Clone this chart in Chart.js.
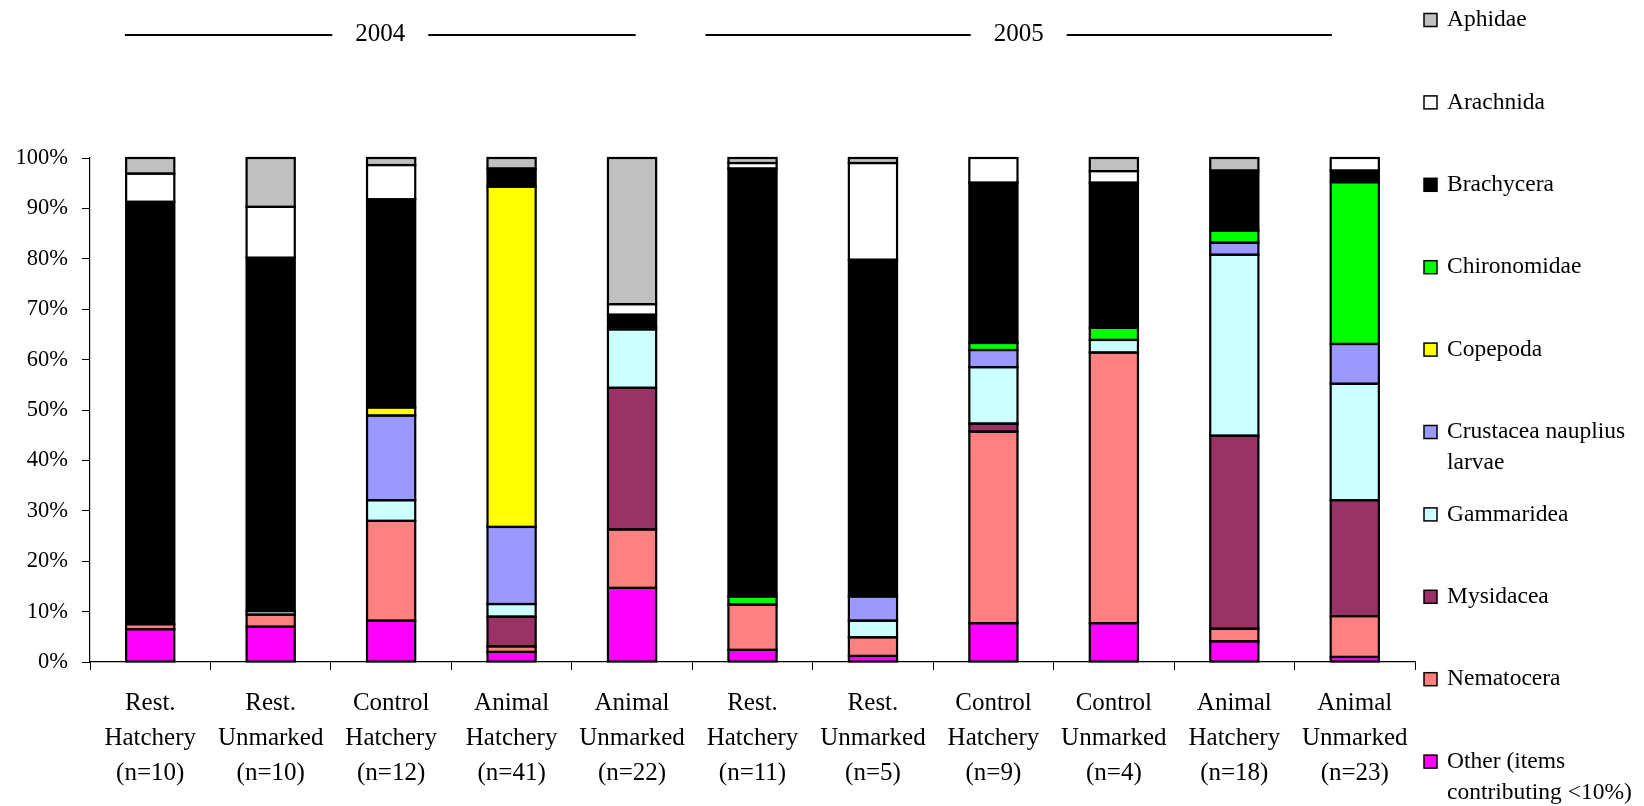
<!DOCTYPE html>
<html>
<head>
<meta charset="utf-8">
<style>
  html, body { margin: 0; padding: 0; background: #fff; }
  #wrap { width: 1644px; height: 806px; }
</style>
<script src="https://cdn.jsdelivr.net/npm/chart.js@4.4.1/dist/chart.umd.min.js"></script>
</head>
<body>
<div id="wrap"><canvas id="dietChart" width="1644" height="806"></canvas></div>
<script>
// categories (2004: first five, 2005: last six)
const groups = [
  ['Rest.', 'Hatchery', '(n=10)'],
  ['Rest.', 'Unmarked', '(n=10)'],
  ['Control', 'Hatchery', '(n=12)'],
  ['Animal', 'Hatchery', '(n=41)'],
  ['Animal', 'Unmarked', '(n=22)'],
  ['Rest.', 'Hatchery', '(n=11)'],
  ['Rest.', 'Unmarked', '(n=5)'],
  ['Control', 'Hatchery', '(n=9)'],
  ['Control', 'Unmarked', '(n=4)'],
  ['Animal', 'Hatchery', '(n=18)'],
  ['Animal', 'Unmarked', '(n=23)']
];
const years = ['2004', '2005'];
const yTicks = [0, 10, 20, 30, 40, 50, 60, 70, 80, 90, 100];

// percent of diet, bottom of the stack first
const other       = [6.5, 7.0, 8.2, 2.0, 14.7, 2.4, 1.2, 7.7, 7.7, 4.1, 1.0];
const nematocera  = [1.0, 2.4, 19.8, 1.1, 11.6, 9.0, 3.7, 38.0, 53.7, 2.5, 8.1];
const mysidacea   = [null, null, null, 5.9, 28.1, null, null, 1.6, null, 38.3, 23.0];
const gammaridea  = [null, 0.7, 4.1, 2.5, 11.6, null, 3.3, 11.2, 2.5, 35.9, 23.1];
const crustacea   = [null, null, 16.8, 15.3, null, null, 4.8, 3.4, null, 2.4, 7.9];
const copepoda    = [null, null, 1.6, 67.5, 0.5, null, null, null, null, null, null];
const chironomidae= [null, null, null, null, null, 1.6, null, 1.4, 2.4, 2.4, 32.1];
const brachycera  = [83.8, 70.1, 41.3, 3.6, 2.4, 84.9, 66.8, 31.8, 28.8, 11.9, 2.3];
const arachnida   = [5.6, 10.1, 6.8, null, 2.1, 1.1, 19.2, 4.9, 2.3, null, 2.5];
const aphidae     = [3.1, 9.7, 1.4, 2.1, 29.0, 1.0, 1.0, null, 2.6, 2.5, null];

const FONT = '"Liberation Serif", "Times New Roman", serif';

function ds(label, data, color) {
  return {
    label: label,
    data: data,
    backgroundColor: color,
    borderWidth: 0,
    inflateAmount: 0,
    barPercentage: 0.4,
    categoryPercentage: 1.0
  };
}

const datasets = [
  ds(['Other (items', 'contributing <10%)'], other, '#FF00FF'),
  ds('Nematocera', nematocera, '#FF8080'),
  ds('Mysidacea', mysidacea, '#993366'),
  ds('Gammaridea', gammaridea, '#CCFFFF'),
  ds(['Crustacea nauplius', 'larvae'], crustacea, '#9999FF'),
  ds('Copepoda', copepoda, '#FFFF00'),
  ds('Chironomidae', chironomidae, '#00FF00'),
  ds('Brachycera', brachycera, '#000000'),
  ds('Arachnida', arachnida, '#FFFFFF'),
  ds('Aphidae', aphidae, '#C0C0C0')
];

// black outline round every segment, centred on its edge like the excel original
const segmentOutline = {
  id: 'segmentOutline',
  afterDatasetsDraw(chart) {
    const ctx = chart.ctx;
    ctx.save();
    ctx.strokeStyle = '#000';
    ctx.lineWidth = 2.2;
    chart.data.datasets.forEach((d, i) => {
      chart.getDatasetMeta(i).data.forEach((bar, j) => {
        if (d.data[j] == null) return;
        const p = bar.getProps(['x', 'y', 'base', 'width'], true);
        const top = Math.min(p.y, p.base);
        ctx.strokeRect(p.x - p.width / 2, top, p.width, Math.abs(p.base - p.y));
      });
    });
    ctx.restore();
  }
};

// year headings with lines on both sides
const yearHeader = {
  id: 'yearHeader',
  afterDraw(chart) {
    const ctx = chart.ctx;
    const x = chart.scales.x;
    const cw = x.getPixelForValue(1) - x.getPixelForValue(0);
    const spans = [
      [x.getPixelForValue(0) - 0.21 * cw, x.getPixelForValue(4) + 0.03 * cw],
      [x.getPixelForValue(5) - 0.39 * cw, x.getPixelForValue(10) - 0.19 * cw]
    ];
    ctx.save();
    ctx.font = '25px ' + FONT;
    ctx.fillStyle = '#000';
    ctx.strokeStyle = '#000';
    ctx.lineWidth = 2;
    ctx.textAlign = 'center';
    ctx.textBaseline = 'middle';
    years.forEach((yr, i) => {
      const [a, b] = spans[i];
      const mid = (a + b) / 2;
      ctx.beginPath();
      ctx.moveTo(a, 35); ctx.lineTo(mid - 48, 35);
      ctx.moveTo(mid + 48, 35); ctx.lineTo(b, 35);
      ctx.stroke();
      ctx.fillText(yr, mid, 34);
    });
    ctx.restore();
  }
};

// legend on the right, top item = top of stack
const sideLegend = {
  id: 'sideLegend',
  afterDraw(chart) {
    const ctx = chart.ctx;
    const list = chart.data.datasets.slice().reverse();
    ctx.save();
    ctx.font = '23.5px ' + FONT;
    ctx.textBaseline = 'middle';
    ctx.textAlign = 'left';
    list.forEach((d, i) => {
      const y = 20 + i * 82.4;
      ctx.fillStyle = d.backgroundColor;
      ctx.fillRect(1424, y - 6.5, 13, 13);
      ctx.strokeStyle = '#000';
      ctx.lineWidth = 1.5;
      ctx.strokeRect(1424, y - 6.5, 13, 13);
      ctx.fillStyle = '#000';
      const lines = Array.isArray(d.label) ? d.label : [d.label];
      lines.forEach((t, k) => ctx.fillText(t, 1447, y + k * 31));
    });
    ctx.restore();
  }
};

new Chart(document.getElementById('dietChart'), {
  type: 'bar',
  data: { labels: groups, datasets: datasets },
  options: {
    responsive: false,
    animation: false,
    devicePixelRatio: 1,
    layout: { padding: { top: 158, right: 229, left: 0, bottom: 0 } },
    plugins: {
      legend: { display: false },
      tooltip: { enabled: false }
    },
    scales: {
      x: {
        stacked: true,
        afterFit(s) { s.height = 144; },
        grid: { drawOnChartArea: false, color: '#000', tickLength: 8, offset: true },
        border: { color: '#000', width: 1.2 },
        ticks: {
          color: '#000',
          font: { family: FONT, size: 25, lineHeight: 1.4 },
          padding: 16,
          maxRotation: 0,
          autoSkip: false
        }
      },
      y: {
        stacked: true,
        min: yTicks[0],
        max: yTicks[yTicks.length - 1],
        afterFit(s) { s.width = 90; },
        afterBuildTicks(s) { s.ticks = yTicks.map(v => ({ value: v })); },
        grid: { drawOnChartArea: false, color: '#000', tickLength: 8 },
        border: { color: '#000', width: 1.2 },
        ticks: {
          color: '#000',
          font: { family: FONT, size: 22.5 },
          padding: 14,
          callback: v => v + '%'
        }
      }
    }
  },
  plugins: [segmentOutline, yearHeader, sideLegend]
});
</script>
</body>
</html>
